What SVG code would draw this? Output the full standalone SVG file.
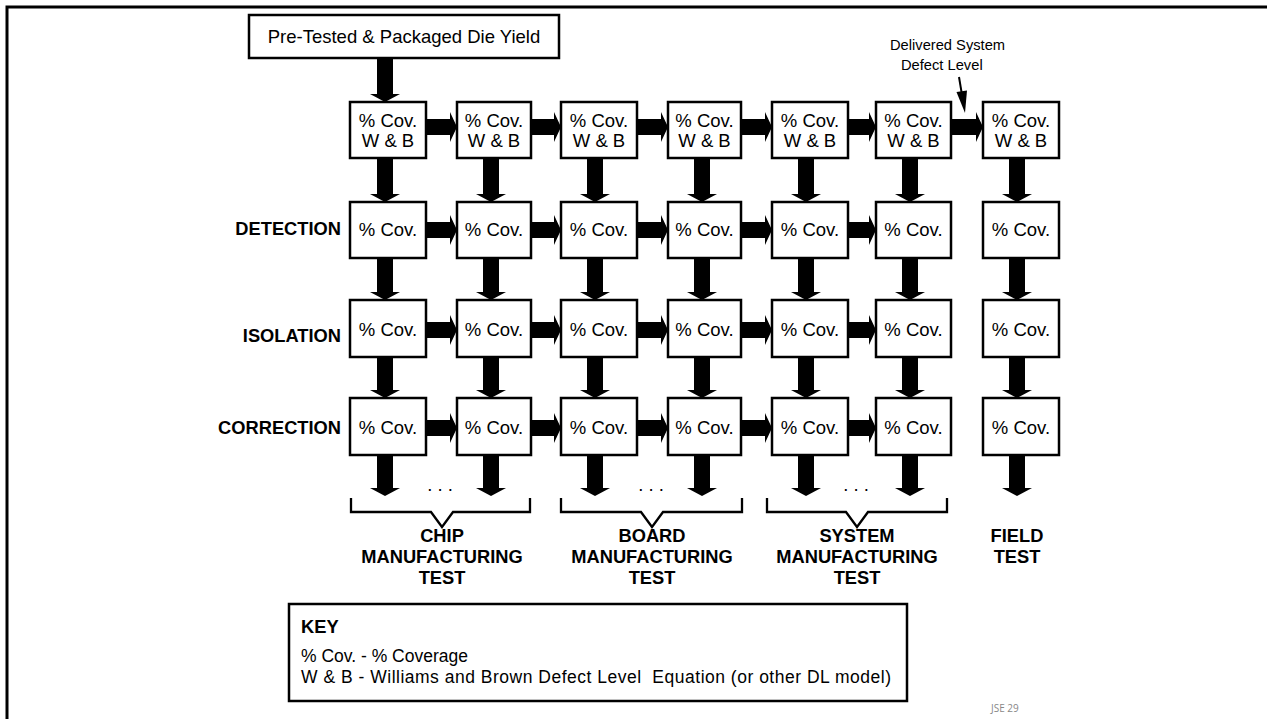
<svg xmlns="http://www.w3.org/2000/svg" width="1267" height="719" viewBox="0 0 1267 719">
  <style>
    .box { fill: #fff; stroke: #000; stroke-width: 2.5; }
    .t { font-family: "Liberation Sans", Arial, sans-serif; font-size: 18.5px; fill: #000; }
    .c { text-anchor: middle; }
    .b { font-weight: bold; font-size: 18.3px; }
    .r { text-anchor: end; }
    .k { font-size: 17.5px; }
    .arr { fill: #000; stroke: none; }
    .brk { fill: none; stroke: #000; stroke-width: 2.3; stroke-linejoin: miter; }
    .note { font-family: "Liberation Sans", Arial, sans-serif; font-size: 14.7px; fill: #000; }
  </style>

  <!-- page frame -->
  <path d="M7 719 V7 H1267" fill="none" stroke="#000" stroke-width="3"/>

  <!-- connectors -->
  <g id="connectors">
    <!-- vertical flow arrows: column centres 385 491 595 702 806 910 1017 -->
    <g class="arr">
      <path d="M377 58 V94 H370 L385 102 L400 94 H393 V58 Z"/>
      <!-- row 1 to row 2 -->
      <path d="M377 158 V194 H370 L385 202 L400 194 H393 V158 Z"/>
      <path d="M483 158 V194 H476 L491 202 L506 194 H499 V158 Z"/>
      <path d="M587 158 V194 H580 L595 202 L610 194 H603 V158 Z"/>
      <path d="M694 158 V194 H687 L702 202 L717 194 H710 V158 Z"/>
      <path d="M798 158 V194 H791 L806 202 L821 194 H814 V158 Z"/>
      <path d="M902 158 V194 H895 L910 202 L925 194 H918 V158 Z"/>
      <path d="M1009 158 V194 H1002 L1017 202 L1032 194 H1025 V158 Z"/>
      <!-- row 2 to row 3 -->
      <path d="M377 258 V292 H370 L385 300 L400 292 H393 V258 Z"/>
      <path d="M483 258 V292 H476 L491 300 L506 292 H499 V258 Z"/>
      <path d="M587 258 V292 H580 L595 300 L610 292 H603 V258 Z"/>
      <path d="M694 258 V292 H687 L702 300 L717 292 H710 V258 Z"/>
      <path d="M798 258 V292 H791 L806 300 L821 292 H814 V258 Z"/>
      <path d="M902 258 V292 H895 L910 300 L925 292 H918 V258 Z"/>
      <path d="M1009 258 V292 H1002 L1017 300 L1032 292 H1025 V258 Z"/>
      <!-- row 3 to row 4 -->
      <path d="M377 357 V390 H370 L385 398 L400 390 H393 V357 Z"/>
      <path d="M483 357 V390 H476 L491 398 L506 390 H499 V357 Z"/>
      <path d="M587 357 V390 H580 L595 398 L610 390 H603 V357 Z"/>
      <path d="M694 357 V390 H687 L702 398 L717 390 H710 V357 Z"/>
      <path d="M798 357 V390 H791 L806 398 L821 390 H814 V357 Z"/>
      <path d="M902 357 V390 H895 L910 398 L925 390 H918 V357 Z"/>
      <path d="M1009 357 V390 H1002 L1017 398 L1032 390 H1025 V357 Z"/>
      <!-- out of row 4 -->
      <path d="M377 455 V488 H370 L385 496 L400 488 H393 V455 Z"/>
      <path d="M483 455 V488 H476 L491 496 L506 488 H499 V455 Z"/>
      <path d="M587 455 V488 H580 L595 496 L610 488 H603 V455 Z"/>
      <path d="M694 455 V488 H687 L702 496 L717 488 H710 V455 Z"/>
      <path d="M798 455 V488 H791 L806 496 L821 488 H814 V455 Z"/>
      <path d="M902 455 V488 H895 L910 496 L925 488 H918 V455 Z"/>
      <path d="M1009 455 V488 H1002 L1017 496 L1032 488 H1025 V455 Z"/>
    </g>

    <!-- horizontal flow arrows -->
    <g class="arr">
      <!-- row 1 (centre y 127) -->
      <path d="M426 119 H450 V112 L457 127 L450 142 V135 H426 Z"/>
      <path d="M531 119 H554 V112 L561 127 L554 142 V135 H531 Z"/>
      <path d="M637 119 H661 V112 L668 127 L661 142 V135 H637 Z"/>
      <path d="M741 119 H765 V112 L772 127 L765 142 V135 H741 Z"/>
      <path d="M848 119 H869 V112 L876 127 L869 142 V135 H848 Z"/>
      <path d="M951 119 H976 V112 L983 127 L976 142 V135 H951 Z"/>
      <!-- row 2 (centre y 230) -->
      <path d="M426 222 H450 V215 L457 230 L450 245 V238 H426 Z"/>
      <path d="M531 222 H554 V215 L561 230 L554 245 V238 H531 Z"/>
      <path d="M637 222 H661 V215 L668 230 L661 245 V238 H637 Z"/>
      <path d="M741 222 H765 V215 L772 230 L765 245 V238 H741 Z"/>
      <path d="M848 222 H869 V215 L876 230 L869 245 V238 H848 Z"/>
      <!-- row 3 (centre y 330) -->
      <path d="M426 322 H450 V315 L457 330 L450 345 V338 H426 Z"/>
      <path d="M531 322 H554 V315 L561 330 L554 345 V338 H531 Z"/>
      <path d="M637 322 H661 V315 L668 330 L661 345 V338 H637 Z"/>
      <path d="M741 322 H765 V315 L772 330 L765 345 V338 H741 Z"/>
      <path d="M848 322 H869 V315 L876 330 L869 345 V338 H848 Z"/>
      <!-- row 4 (centre y 428) -->
      <path d="M426 420 H450 V413 L457 428 L450 443 V436 H426 Z"/>
      <path d="M531 420 H554 V413 L561 428 L554 443 V436 H531 Z"/>
      <path d="M637 420 H661 V413 L668 428 L661 443 V436 H637 Z"/>
      <path d="M741 420 H765 V413 L772 428 L765 443 V436 H741 Z"/>
      <path d="M848 420 H869 V413 L876 428 L869 443 V436 H848 Z"/>
    </g>

    <!-- pointer to the delivered defect level -->
    <line x1="959" y1="77" x2="962" y2="95" stroke="#000" stroke-width="2"/>
    <polygon class="arr" points="965,113 956.5,92 967,90.5"/>
  </g>

  <!-- source box -->
  <g id="die-yield">
    <rect class="box" x="249" y="15" width="310" height="43"/>
    <text class="t c" x="404" y="43">Pre-Tested &amp; Packaged Die Yield</text>
  </g>

  <g id="delivered-label">
    <text class="note" x="890" y="50">Delivered System</text>
    <text class="note" x="901" y="70">Defect Level</text>
  </g>

  <!-- row labels -->
  <g id="row-labels">
    <text class="t b r" x="341" y="235">DETECTION</text>
    <text class="t b r" x="341" y="342">ISOLATION</text>
    <text class="t b r" x="341" y="434">CORRECTION</text>
  </g>

  <!-- row 1: coverage + W&B -->
  <g id="n1-1"><rect class="box" x="350" y="102" width="76" height="56"/><text class="t c" x="388" y="127">% Cov.</text><text class="t c" x="388" y="147">W &amp; B</text></g>
  <g id="n1-2"><rect class="box" x="457" y="102" width="74" height="56"/><text class="t c" x="494" y="127">% Cov.</text><text class="t c" x="494" y="147">W &amp; B</text></g>
  <g id="n1-3"><rect class="box" x="561" y="102" width="76" height="56"/><text class="t c" x="599" y="127">% Cov.</text><text class="t c" x="599" y="147">W &amp; B</text></g>
  <g id="n1-4"><rect class="box" x="668" y="102" width="73" height="56"/><text class="t c" x="704.5" y="127">% Cov.</text><text class="t c" x="704.5" y="147">W &amp; B</text></g>
  <g id="n1-5"><rect class="box" x="772" y="102" width="76" height="56"/><text class="t c" x="810" y="127">% Cov.</text><text class="t c" x="810" y="147">W &amp; B</text></g>
  <g id="n1-6"><rect class="box" x="876" y="102" width="75" height="56"/><text class="t c" x="913.5" y="127">% Cov.</text><text class="t c" x="913.5" y="147">W &amp; B</text></g>
  <g id="n1-7"><rect class="box" x="983" y="102" width="76" height="56"/><text class="t c" x="1021" y="127">% Cov.</text><text class="t c" x="1021" y="147">W &amp; B</text></g>

  <!-- row 2: detection -->
  <g id="n2-1"><rect class="box" x="350" y="202" width="76" height="56"/><text class="t c" x="388" y="236">% Cov.</text></g>
  <g id="n2-2"><rect class="box" x="457" y="202" width="74" height="56"/><text class="t c" x="494" y="236">% Cov.</text></g>
  <g id="n2-3"><rect class="box" x="561" y="202" width="76" height="56"/><text class="t c" x="599" y="236">% Cov.</text></g>
  <g id="n2-4"><rect class="box" x="668" y="202" width="73" height="56"/><text class="t c" x="704.5" y="236">% Cov.</text></g>
  <g id="n2-5"><rect class="box" x="772" y="202" width="76" height="56"/><text class="t c" x="810" y="236">% Cov.</text></g>
  <g id="n2-6"><rect class="box" x="876" y="202" width="75" height="56"/><text class="t c" x="913.5" y="236">% Cov.</text></g>
  <g id="n2-7"><rect class="box" x="983" y="202" width="76" height="56"/><text class="t c" x="1021" y="236">% Cov.</text></g>

  <!-- row 3: isolation -->
  <g id="n3-1"><rect class="box" x="350" y="300" width="76" height="57"/><text class="t c" x="388" y="336">% Cov.</text></g>
  <g id="n3-2"><rect class="box" x="457" y="300" width="74" height="57"/><text class="t c" x="494" y="336">% Cov.</text></g>
  <g id="n3-3"><rect class="box" x="561" y="300" width="76" height="57"/><text class="t c" x="599" y="336">% Cov.</text></g>
  <g id="n3-4"><rect class="box" x="668" y="300" width="73" height="57"/><text class="t c" x="704.5" y="336">% Cov.</text></g>
  <g id="n3-5"><rect class="box" x="772" y="300" width="76" height="57"/><text class="t c" x="810" y="336">% Cov.</text></g>
  <g id="n3-6"><rect class="box" x="876" y="300" width="75" height="57"/><text class="t c" x="913.5" y="336">% Cov.</text></g>
  <g id="n3-7"><rect class="box" x="983" y="300" width="76" height="57"/><text class="t c" x="1021" y="336">% Cov.</text></g>

  <!-- row 4: correction -->
  <g id="n4-1"><rect class="box" x="350" y="398" width="76" height="57"/><text class="t c" x="388" y="434">% Cov.</text></g>
  <g id="n4-2"><rect class="box" x="457" y="398" width="74" height="57"/><text class="t c" x="494" y="434">% Cov.</text></g>
  <g id="n4-3"><rect class="box" x="561" y="398" width="76" height="57"/><text class="t c" x="599" y="434">% Cov.</text></g>
  <g id="n4-4"><rect class="box" x="668" y="398" width="73" height="57"/><text class="t c" x="704.5" y="434">% Cov.</text></g>
  <g id="n4-5"><rect class="box" x="772" y="398" width="76" height="57"/><text class="t c" x="810" y="434">% Cov.</text></g>
  <g id="n4-6"><rect class="box" x="876" y="398" width="75" height="57"/><text class="t c" x="913.5" y="434">% Cov.</text></g>
  <g id="n4-7"><rect class="box" x="983" y="398" width="76" height="57"/><text class="t c" x="1021" y="434">% Cov.</text></g>

  <!-- test-stage groupings -->
  <g id="chip-test">
    <text class="t c" x="440" y="491">. . .</text>
    <path class="brk" d="M351 498 V512 H431 L442 527 L453 512 H530 V498"/>
    <text class="t b c" x="442" y="542">CHIP</text>
    <text class="t b c" x="442" y="563">MANUFACTURING</text>
    <text class="t b c" x="442" y="584">TEST</text>
  </g>
  <g id="board-test">
    <text class="t c" x="651" y="491">. . .</text>
    <path class="brk" d="M561 498 V512 H641 L652 527 L663 512 H742 V498"/>
    <text class="t b c" x="652" y="542">BOARD</text>
    <text class="t b c" x="652" y="563">MANUFACTURING</text>
    <text class="t b c" x="652" y="584">TEST</text>
  </g>
  <g id="system-test">
    <text class="t c" x="856" y="491">. . .</text>
    <path class="brk" d="M767 498 V512 H846 L857 527 L868 512 H947 V498"/>
    <text class="t b c" x="857" y="542">SYSTEM</text>
    <text class="t b c" x="857" y="563">MANUFACTURING</text>
    <text class="t b c" x="857" y="584">TEST</text>
  </g>
  <g id="field-test">
    <text class="t b c" x="1017" y="542">FIELD</text>
    <text class="t b c" x="1017" y="563">TEST</text>
  </g>

  <!-- legend -->
  <g id="key">
    <rect class="box" x="289" y="604" width="618" height="97"/>
    <text class="t b" x="301" y="633">KEY</text>
    <text class="t k" x="301" y="662">% Cov. - % Coverage</text>
    <text class="t k" x="301" y="683" textLength="590" lengthAdjust="spacing" xml:space="preserve">W &amp; B - Williams and Brown Defect Level  Equation (or other DL model)</text>
  </g>

  <text x="991" y="712" font-family="'Open Sans', sans-serif" font-size="10" fill="#888">JSE 29</text>
</svg>
